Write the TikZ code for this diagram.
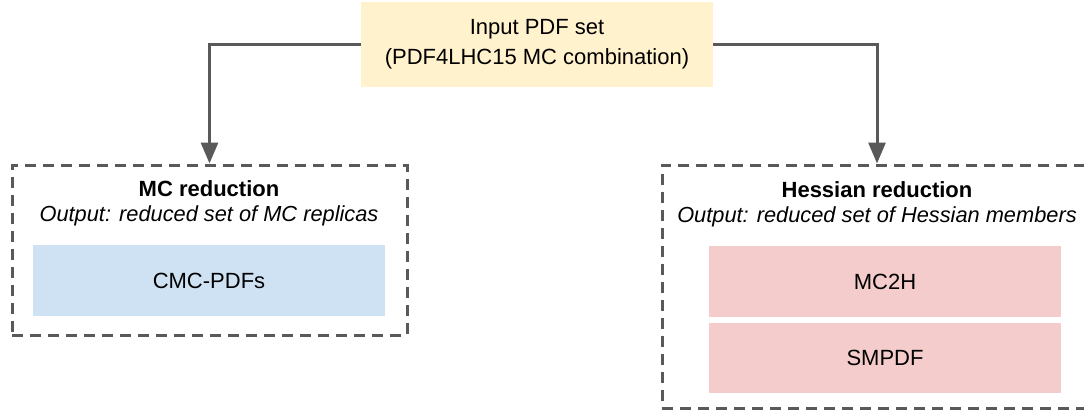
\documentclass[tikz,border=0pt]{standalone}
\usepackage{fontspec}
\setmainfont{Liberation Sans}
\usetikzlibrary{arrows.meta}
\definecolor{inyellow}{HTML}{FFF2CC}
\definecolor{mcblue}{HTML}{CFE2F3}
\definecolor{hpink}{HTML}{F4CCCC}
\definecolor{linegray}{HTML}{595959}
\begin{document}
\begin{tikzpicture}[x=1pt,y=-1pt,
  fillbox/.style={rectangle, inner sep=0pt, draw=none, align=center,
    font=\fontsize{22}{30}\selectfont},
  groupbox/.style={rectangle, inner sep=0pt, draw=linegray, line width=3pt,
    dash pattern=on 11pt off 7pt},
  conn/.style={draw=linegray, line width=3pt,
    -{Triangle[length=21pt,width=17pt]}},
  title/.style={inner sep=0pt, font=\fontsize{22}{25}\selectfont\bfseries},
  subtitle/.style={inner sep=0pt, font=\fontsize{21.8}{25}\selectfont\itshape}
]
\useasboundingbox (0,0) rectangle (1084,410);
\fill[white] (0,0) rectangle (1084,410);

\node[fillbox, fill=inyellow, minimum width=352pt, minimum height=85pt]
  (input) at (537,44) {Input PDF set\\(PDF4LHC15 MC combination)};

\node[groupbox, minimum width=395pt, minimum height=170pt] (mc) at (209.5,250) {};
\node[groupbox, minimum width=450pt, minimum height=243pt] (hess) at (887,286.5) {};

\node[title] (mctitle) at (209,189) {MC reduction};
\node[subtitle] (mcsub) at (209,216) {Output: reduced set of MC replicas};
\node[fillbox, fill=mcblue, minimum width=352pt, minimum height=71pt]
  (cmc) at (209,280.5) {CMC-PDFs};

\node[title] (htitle) at (877,190) {Hessian reduction};
\node[subtitle] (hsub) at (877,217) {Output: reduced set of Hessian members};
\node[fillbox, fill=hpink, minimum width=352pt, minimum height=71pt]
  (mc2h) at (885,281.5) {MC2H};
\node[fillbox, fill=hpink, minimum width=352pt, minimum height=70pt]
  (smpdf) at (885,358) {SMPDF};

\draw[conn] (input.west) -| (mc.north);
\draw[conn] (input.east) -| (htitle.north |- hess.north);
\end{tikzpicture}
\end{document}
